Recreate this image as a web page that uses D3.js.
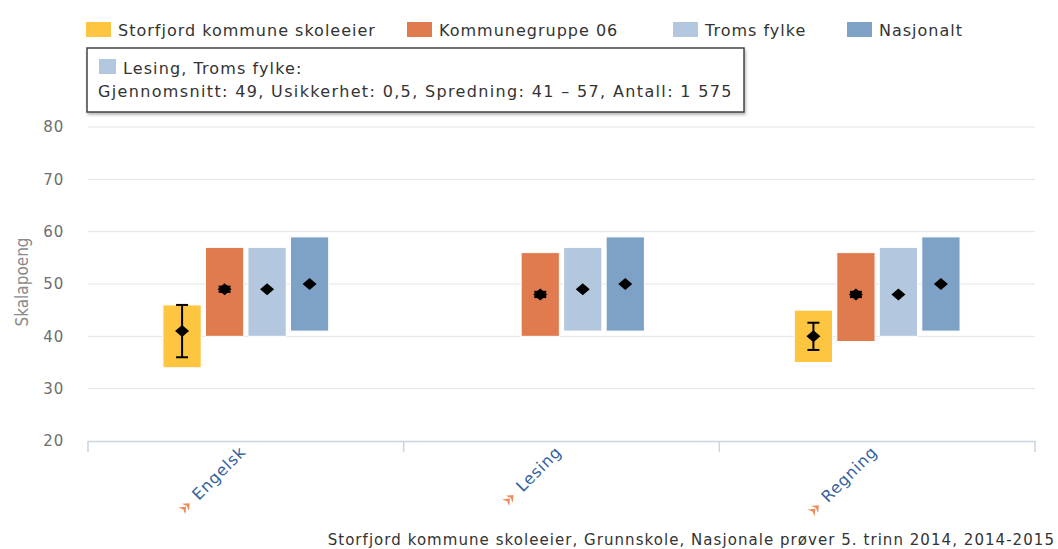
<!DOCTYPE html>
<html>
<head>
<meta charset="utf-8">
<script src="https://cdn.jsdelivr.net/npm/d3@7"></script>
<style>
  body { margin: 0; background: #fff; }
  svg { font-family: "DejaVu Sans", Verdana, sans-serif; display: block; }
</style>
</head>
<body>
<div id="chart"></div>
<script>
// Chart data
var categories = ["Engelsk", "Lesing", "Regning"];
var seriesNames = ["Storfjord kommune skoleeier", "Kommunegruppe 06", "Troms fylke", "Nasjonalt"];
var seriesColors = ["#fec540", "#e07b4f", "#b3c8de", "#7ea1c6"];

// spread (low - high) and mean for each series
var storfjordLow = [34, null, 35];
var storfjordHigh = [46, null, 45];
var storfjordMean = [41, null, 40];
var storfjordErrLow = [36, null, 37.4];
var storfjordErrHigh = [46, null, 42.6];

var kommuneLow = [40, 40, 39];
var kommuneHigh = [57, 56, 56];
var kommuneMean = [49, 48, 48];
var kommuneErrLow = [48.5, 47.5, 47.5];
var kommuneErrHigh = [49.5, 48.5, 48.5];

var tromsLow = [40, 41, 40];
var tromsHigh = [57, 57, 57];
var tromsMean = [49, 49, 48];

var nasjonaltLow = [41, 41, 41];
var nasjonaltHigh = [59, 59, 59];
var nasjonaltMean = [50, 50, 50];

var yTicks = [20, 30, 40, 50, 60, 70, 80];

var tooltipTitle = "Lesing, Troms fylke:";
var tooltipText = "Gjennomsnitt: 49, Usikkerhet: 0,5, Spredning: 41 \u2013 57, Antall: 1 575";
var footerText = "Storfjord kommune skoleeier, Grunnskole, Nasjonale pr\u00f8ver 5. trinn 2014, 2014-2015";

var lows = [storfjordLow, kommuneLow, tromsLow, nasjonaltLow];
var highs = [storfjordHigh, kommuneHigh, tromsHigh, nasjonaltHigh];
var means = [storfjordMean, kommuneMean, tromsMean, nasjonaltMean];
var errLows = [storfjordErrLow, kommuneErrLow, null, null];
var errHighs = [storfjordErrHigh, kommuneErrHigh, null, null];

// Build flat table
var rows = [];
seriesNames.forEach(function(name, s) {
  categories.forEach(function(cat, c) {
    if (lows[s][c] == null) return;
    rows.push({
      series: name, color: seriesColors[s], cat: cat,
      low: lows[s][c], high: highs[s][c], mean: means[s][c],
      errLow: errLows[s] ? errLows[s][c] : null,
      errHigh: errHighs[s] ? errHighs[s][c] : null
    });
  });
});

var svgWidth = 1058;
var svgHeight = 549;
var plot = { left: 88, right: 1035, top: 127, bottom: 441 };

var svg = d3.select("#chart").append("svg")
  .attr("width", svgWidth)
  .attr("height", svgHeight);

var x = d3.scaleBand().domain(categories).range([plot.left, plot.right]);
var xSub = d3.scaleBand().domain(seriesNames)
  .range([x.bandwidth() / 2 - 85, x.bandwidth() / 2 + 85])
  .paddingInner(0.1).paddingOuter(0.05);
var y = d3.scaleLinear().domain([20, 80]).range([plot.bottom, plot.top]);

// gridlines
svg.append("g").selectAll("line")
  .data(yTicks.filter(function(t) { return t > 20; }))
  .enter().append("line")
  .attr("x1", plot.left).attr("x2", plot.right)
  .attr("y1", d => y(d)).attr("y2", d => y(d))
  .attr("stroke", "#e4e4e4").attr("stroke-width", 1);

// y axis labels
var yAxis = d3.axisLeft(y).tickValues(yTicks).tickSize(0).tickPadding(24);
var yG = svg.append("g").attr("transform", `translate(${plot.left}, 0)`).call(yAxis);
yG.select(".domain").remove();
yG.selectAll("text").attr("font-size", "15px").attr("fill", "#6e6e6e")
  .attr("font-family", "DejaVu Sans").attr("letter-spacing", "0.8px");

// y title
svg.append("text")
  .attr("transform", `translate(28, ${(plot.top + plot.bottom) / 2 - 2}) rotate(-90)`)
  .attr("text-anchor", "middle")
  .attr("font-size", "17px")
  .attr("fill", "#8a8a8a")
  .attr("font-family", "DejaVu Sans Condensed")
  .text("Skalapoeng");

// x axis
svg.append("line")
  .attr("x1", plot.left).attr("x2", plot.right)
  .attr("y1", plot.bottom + 0.5).attr("y2", plot.bottom + 0.5)
  .attr("stroke", "#c9d5e2").attr("stroke-width", 1.5);
var tickX = categories.map(d => x(d)).concat([plot.right]);
svg.append("g").selectAll("line").data(tickX).enter().append("line")
  .attr("x1", d => d).attr("x2", d => d)
  .attr("y1", plot.bottom).attr("y2", plot.bottom + 11)
  .attr("stroke", "#c9d5e2").attr("stroke-width", 1.5);

// x labels
var xl = svg.append("g").selectAll("g").data(categories).enter().append("g")
  .attr("transform", d => `translate(${x(d) + x.bandwidth() / 2 + 1}, 453) rotate(-45)`);
xl.append("text")
  .attr("text-anchor", "end")
  .attr("font-size", "16px")
  .attr("letter-spacing", "0.8px")
  .attr("fill", "#33629e")
  .text(d => d);
xl.append("path")
  .attr("d", "M0,-5 L6,0 L0,5 L2,0 Z M-5,-5 L1,0 L-5,5 L-3,0 Z")
  .attr("fill", "#ef8a5a")
  .attr("transform", function() {
    var w = this.parentNode.querySelector("text").getComputedTextLength();
    return `translate(${-w - 14}, -5)`;
  });

// bars
var groups = svg.append("g").selectAll("g").data(rows).enter().append("g")
  .attr("transform", d => `translate(${x(d.cat) + xSub(d.series)}, 0)`);

groups.append("rect")
  .attr("x", 0)
  .attr("width", xSub.bandwidth())
  .attr("y", d => y(d.high))
  .attr("height", d => y(d.low) - y(d.high))
  .attr("fill", d => d.color)
  .attr("stroke", "#fff").attr("stroke-width", 1);

// error bars
var bw = xSub.bandwidth();
var eb = groups.filter(d => d.errLow != null);
eb.append("line")
  .attr("x1", bw / 2).attr("x2", bw / 2)
  .attr("y1", d => y(d.errHigh)).attr("y2", d => y(d.errLow))
  .attr("stroke", "#000").attr("stroke-width", 2);
eb.append("line")
  .attr("x1", bw / 2 - 6).attr("x2", bw / 2 + 6)
  .attr("y1", d => y(d.errHigh)).attr("y2", d => y(d.errHigh))
  .attr("stroke", "#000").attr("stroke-width", 2);
eb.append("line")
  .attr("x1", bw / 2 - 6).attr("x2", bw / 2 + 6)
  .attr("y1", d => y(d.errLow)).attr("y2", d => y(d.errLow))
  .attr("stroke", "#000").attr("stroke-width", 2);

// mean diamonds
groups.append("path")
  .attr("d", "M0,-6 L7,0 L0,6 L-7,0 Z")
  .attr("fill", "#000")
  .attr("transform", d => `translate(${bw / 2}, ${y(d.mean)})`);

// legend
var legendX = [86, 407, 673, 847];
var legend = svg.append("g").selectAll("g").data(seriesNames).enter().append("g")
  .attr("transform", (d, i) => `translate(${legendX[i]}, 22)`);
legend.append("rect").attr("width", 25).attr("height", 15)
  .attr("fill", (d, i) => seriesColors[i]);
legend.append("text").attr("x", 32).attr("y", 14)
  .attr("font-size", "16px").attr("letter-spacing", "1px").attr("fill", "#333")
  .text(d => d);

// tooltip box
var defs = svg.append("defs");
var f = defs.append("filter").attr("id", "shadow").attr("x", "-5%").attr("y", "-20%")
  .attr("width", "110%").attr("height", "150%");
f.append("feDropShadow").attr("dx", 1).attr("dy", 2).attr("stdDeviation", 1.5)
  .attr("flood-color", "#000").attr("flood-opacity", 0.3);
var tip = svg.append("g");
tip.append("rect")
  .attr("x", 87).attr("y", 48).attr("width", 657).attr("height", 64)
  .attr("fill", "#fff").attr("stroke", "#444").attr("stroke-width", 1.5)
  .attr("filter", "url(#shadow)");
tip.append("rect").attr("x", 99).attr("y", 59).attr("width", 17).attr("height", 15)
  .attr("fill", seriesColors[2]);
tip.append("text").attr("x", 123).attr("y", 74)
  .attr("font-size", "16px").attr("letter-spacing", "1.1px").attr("fill", "#333").text(tooltipTitle);
tip.append("text").attr("x", 98).attr("y", 97)
  .attr("font-size", "16px").attr("letter-spacing", "1.35px").attr("fill", "#333").text(tooltipText);

// footer
svg.append("text")
  .attr("x", 1055).attr("y", 545)
  .attr("text-anchor", "end")
  .attr("font-size", "15px").attr("fill", "#333")
  .attr("letter-spacing", "1.05px")
  .text(footerText);
</script>
</body>
</html>
